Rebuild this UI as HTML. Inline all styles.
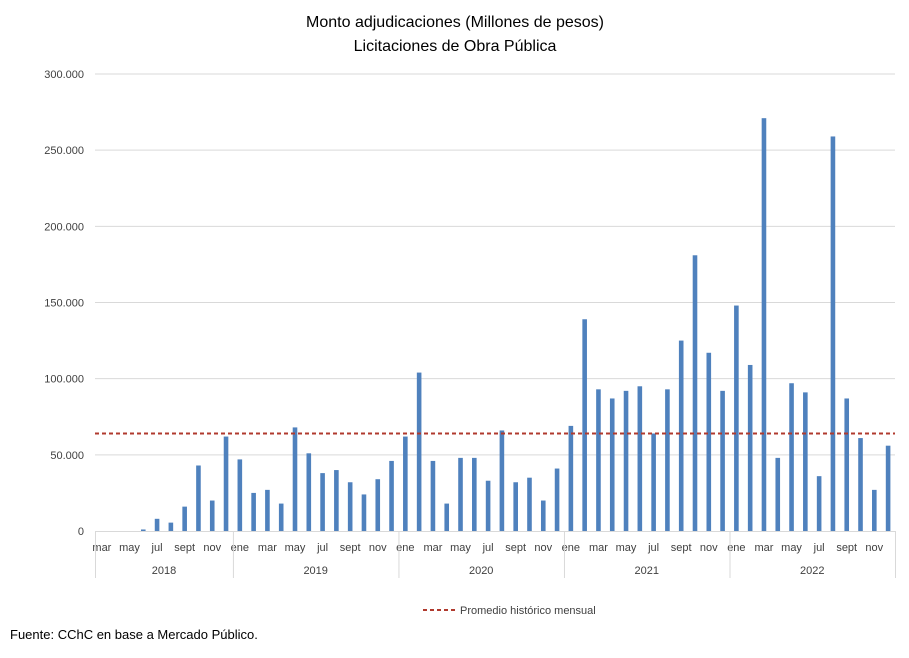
<!DOCTYPE html>
<html><head><meta charset="utf-8"><style>
body{margin:0;background:#fff;font-family:"Liberation Sans",sans-serif}
</style></head><body>
<svg width="909" height="658" id="c" style="display:block">
<text x="455" y="27" text-anchor="middle" font-size="16" fill="#000">Monto adjudicaciones (Millones de pesos)</text>
<text x="455" y="51" text-anchor="middle" font-size="16" fill="#000">Licitaciones de Obra Pública</text>
<g id="grid"></g><g id="bars"></g><g id="axis"></g>
<line x1="423" y1="610" x2="455" y2="610" stroke="#b03a2e" stroke-width="2" stroke-dasharray="4,3"/>
<text x="460" y="614" font-size="11" fill="#404040">Promedio histórico mensual</text>
<text x="10" y="639" font-size="13" fill="#000">Fuente: CChC en base a Mercado Público.</text>
</svg>
<script>
const years=["2018","2019","2020","2021","2022"];
const monthNames=["ene","feb","mar","abr","may","jun","jul","ago","sept","oct","nov","dic"];
const values2018=[0,0,0,1,8,5.5,16,43,20,62];
const values2019=[47,25,27,18,68,51,38,40,32,24,34,46];
const values2020=[62,104,46,18,48,48,33,66,32,35,20,41];
const values2021=[69,139,93,87,92,95,64,93,125,181,117,92];
const values2022=[148,109,271,48,97,91,36,259,87,61,27,56];
const average=[64];
const yTicks=[0,50,100,150,200,250,300];
const yTickLabels=["0","50.000","100.000","150.000","200.000","250.000","300.000"];

const NS="http://www.w3.org/2000/svg";
const X0=95,X1=895,Y0=531,Y1=74;
const allVals=[].concat(values2018,values2019,values2020,values2021,values2022);
const months=[];
for(let i=2;i<12;i++)months.push(monthNames[i]);
for(let y=0;y<4;y++)for(let i=0;i<12;i++)months.push(monthNames[i]);
const N=allVals.length, slot=(X1-X0)/N;
const yS=v=>Y0-(v/300)*(Y0-Y1);
const xS=i=>X0+(i+0.5)*slot;
function mk(t,a,p){const e=document.createElementNS(NS,t);for(const k in a)e.setAttribute(k,a[k]);p.appendChild(e);return e;}
const grid=document.getElementById('grid'),bars=document.getElementById('bars'),ax=document.getElementById('axis');
yTicks.forEach((t,i)=>{
 if(t>0){const l=mk('line',{x1:X0,x2:X1,y1:yS(t),y2:yS(t),stroke:'#d9d9d9'},grid);
 
 }
 const tx=mk('text',{x:84,y:yS(t)+4,'text-anchor':'end','font-size':11,fill:'#404040'},ax);
 tx.textContent=yTickLabels[i];
 
 
});
allVals.forEach((v,i)=>{
 const r=mk('rect',{x:xS(i)-2.3,y:yS(v),width:4.6,height:Y0-yS(v),fill:'#4f81bd'},bars);
 
 
});
const avg=mk('line',{x1:X0,x2:X1,y1:yS(average[0]),y2:yS(average[0]),stroke:'#b03a2e','stroke-width':2,'stroke-dasharray':'4,3'},bars);


mk('line',{x1:X0,x2:X1,y1:Y0+0.5,y2:Y0+0.5,stroke:'#d9d9d9'},ax);
months.forEach((m,i)=>{
 if(i%2)return;
 const t=mk('text',{x:xS(i),y:551,'text-anchor':'middle','font-size':11,fill:'#404040'},ax);
 t.textContent=m;
 
 
});
const counts=[values2018.length,values2019.length,values2020.length,values2021.length,values2022.length];
let start=0;
const seps=[X0];
counts.forEach((c,k)=>{
 const a=X0+start*slot,b=X0+(start+c)*slot;
 seps.push(b);
 const t=mk('text',{x:(a+b)/2,y:574,'text-anchor':'middle','font-size':11,fill:'#404040'},ax);
 t.textContent=years[k];
 
 
 start+=c;
});
seps.forEach(x=>{mk('line',{x1:x+0.5,x2:x+0.5,y1:Y0,y2:578,stroke:'#d9d9d9'},ax);});
</script>
</body></html>
